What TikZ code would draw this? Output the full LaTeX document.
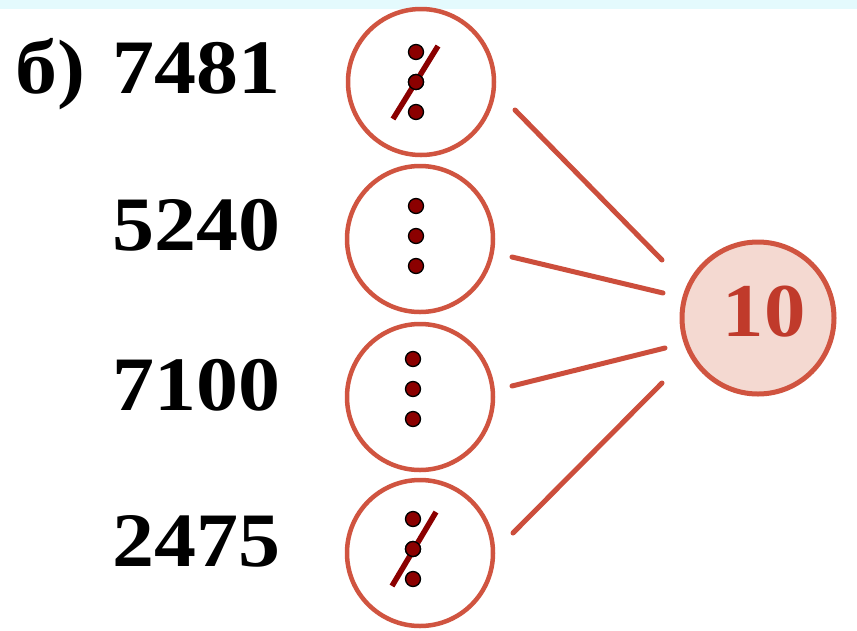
\documentclass[tikz,border=0pt]{standalone}
\usepackage{fontspec}
\setmainfont{Liberation Serif}
\usetikzlibrary{calc}
\definecolor{band}{HTML}{E4FAFD}
\definecolor{ringred}{HTML}{D05440}
\definecolor{linkred}{HTML}{CC4E3C}
\definecolor{dotred}{HTML}{8B0000}
\definecolor{tenfill}{HTML}{F4D9D1}
\definecolor{tentext}{HTML}{C03A2B}
\tikzset{
  ring/.style={circle, draw=ringred, line width=4.5pt, minimum size=146pt, inner sep=0pt},
  bigring/.style={circle, draw=ringred, fill=tenfill, line width=5pt, minimum size=152pt, inner sep=0pt},
  link/.style={draw=linkred, line width=5pt, line cap=round},
  dotmark/.style={circle, fill=dotred, draw=black, line width=1.3pt, minimum size=15pt, inner sep=0pt},
  slash/.style={draw=dotred, line width=5.5pt},
  num/.style={inner sep=0pt, anchor=base west, font=\fontsize{77}{80}\selectfont\bfseries}
}
\newcommand{\wide}[1]{\scalebox{1.09}[1]{#1}}
\begin{document}
\begin{tikzpicture}[x=1pt, y=-1pt]
\useasboundingbox (0,0) rectangle (857,630);
\fill[white] (0,0) rectangle (857,630);
\fill[band] (0,0) rectangle (857,9);

% labels
\node[num] (lbl) at (15,93) {\wide{б)}};
\node[num] (n1) at (112,93) {\wide{7481}};
\node[num] (n2) at (112,250) {\wide{5240}};
\node[num] (n3) at (112,410) {\wide{7100}};
\node[num] (n4) at (112,566) {\wide{2475}};

% rings
\node[ring] (c1) at (421,82) {};
\node[ring] (c2) at (420,239) {};
\node[ring] (c3) at (420,397) {};
\node[ring] (c4) at (420,553) {};

% target circle
\node[bigring] (big) at (758,318) {};
\node[inner sep=0pt, text=tentext, font=\fontsize{76}{78}\selectfont\bfseries] (ten) at (764,312) {\wide{10}};

% connectors
\draw[link] ($(c1)+(94,28)$) -- ($(big)+(-96,-58)$);
\draw[link] ($(c2)+(92,18)$) -- ($(big)+(-95,-25)$);
\draw[link] ($(c3)+(92,-11)$) -- ($(big)+(-93,30)$);
\draw[link] ($(c4)+(93,-20)$) -- ($(big)+(-96,65)$);

% dots
\foreach \c/\dx/\dy in {c1/-5/0, c2/-4/-3, c3/-7/-8, c4/-7/-4}{
  \node[dotmark] at ($(\c)+(\dx,\dy-30)$) {};
  \node[dotmark] at ($(\c)+(\dx,\dy)$) {};
  \node[dotmark] at ($(\c)+(\dx,\dy+30)$) {};
}

% strike-throughs
\draw[slash] ($(c1)+(-28,37)$) -- ($(c1)+(17,-36)$);
\draw[slash] ($(c4)+(-28,33)$) -- ($(c4)+(16,-41)$);
\node[dotmark] at ($(c1)+(-5,0)$) {};
\node[dotmark] at ($(c4)+(-7,-4)$) {};
\end{tikzpicture}
\end{document}
